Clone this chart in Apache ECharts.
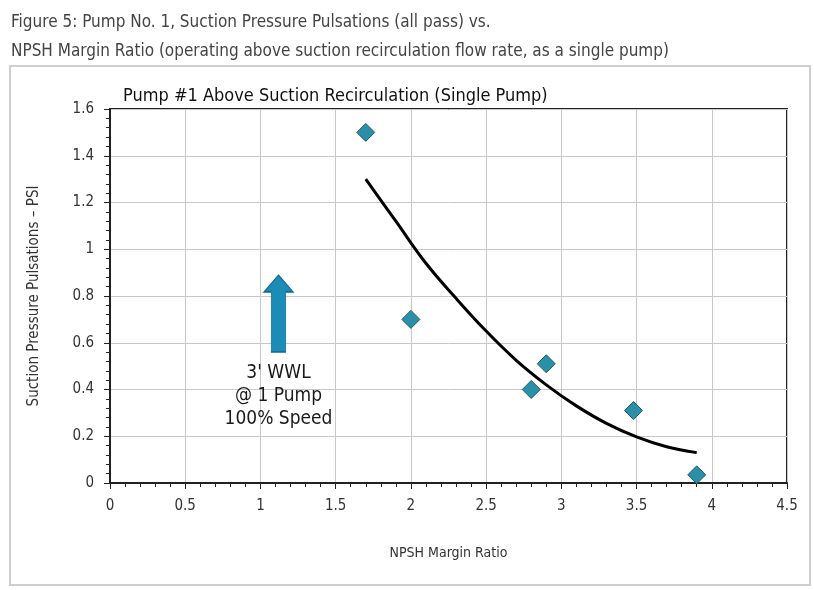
<!DOCTYPE html>
<html>
<head>
<meta charset="utf-8">
<script src="https://cdn.jsdelivr.net/npm/echarts@6/dist/echarts.min.js"></script>
<style>
  html, body { margin: 0; padding: 0; background: #fff; }
  #chart { width: 814px; height: 590px; }
</style>
</head>
<body>
<div id="chart"></div>
<script>
// measured points (NPSH margin ratio, pulsation psi)
const pointX = [1.7, 2.0, 2.8, 2.9, 3.48, 3.9]
const pointY = [1.5, 0.7, 0.4, 0.51, 0.31, 0.035]

// trend curve
const trendX = [1.7, 1.9, 2.1, 2.3, 2.5, 2.7, 2.9, 3.1, 3.3, 3.5, 3.7, 3.9]
const trendY = [1.30, 1.12, 0.94, 0.79, 0.65, 0.525, 0.42, 0.33, 0.255, 0.197, 0.155, 0.13]

// annotation arrow + note
const arrowPos = [1.12, 0.725]
const notePos = [1.12, 0.37]
const noteLines = ["3' WWL", '@ 1 Pump', '100% Speed']

const font = '"Liberation Sans Narrow", "DejaVu Sans Condensed", "Roboto Condensed", sans-serif'

var myChart = echarts.init(document.getElementById('chart'))

myChart.setOption({
  animation: false,
  title: [
    {
      text: 'Figure 5: Pump No. 1, Suction Pressure Pulsations (all pass) vs.\nNPSH Margin Ratio (operating above suction recirculation flow rate, as a single pump)',
      left: 6,
      top: 3,
      textStyle: { fontFamily: font, fontSize: 17, fontWeight: 'normal', color: '#444', lineHeight: 29 }
    },
    {
      text: 'Pump #1 Above Suction Recirculation (Single Pump)',
      left: 118,
      top: 82,
      textStyle: { fontFamily: font, fontSize: 18, fontWeight: 'normal', color: '#111' }
    }
  ],
  graphic: [
    {
      type: 'rect',
      shape: { x: 10, y: 66, width: 800, height: 519 },
      style: { fill: 'none', stroke: '#cfcfcf', lineWidth: 2 },
      silent: true
    }
  ],
  grid: {
    left: 110,
    right: 27,
    top: 109,
    bottom: 107,
    show: true,
    borderColor: '#222',
    borderWidth: 2
  },
  xAxis: {
    type: 'value',
    min: 0,
    max: 4.5,
    interval: 0.5,
    name: 'NPSH Margin Ratio',
    nameLocation: 'middle',
    nameGap: 63,
    nameTextStyle: { fontFamily: font, fontSize: 14, color: '#333' },
    axisLine: { lineStyle: { color: '#222', width: 2 } },
    axisTick: { length: 6, lineStyle: { color: '#222' } },
    minorTick: { show: true, splitNumber: 5, length: 4, lineStyle: { color: '#222' } },
    axisLabel: { fontFamily: font, fontSize: 15, color: '#333', margin: 16 },
    splitLine: { lineStyle: { color: '#c8c8c8' } }
  },
  yAxis: {
    type: 'value',
    min: 0,
    max: 1.6,
    interval: 0.2,
    name: 'Suction Pressure Pulsations \u2013 PSI',
    nameLocation: 'middle',
    nameGap: 68,
    nameTextStyle: { fontFamily: font, fontSize: 15, color: '#333' },
    axisLine: { lineStyle: { color: '#222', width: 2 } },
    axisTick: { length: 6, lineStyle: { color: '#222' } },
    minorTick: { show: true, splitNumber: 5, length: 4, lineStyle: { color: '#222' } },
    axisLabel: { fontFamily: font, fontSize: 15, color: '#333', margin: 16 },
    splitLine: { lineStyle: { color: '#c8c8c8' } }
  },
  series: [
    {
      type: 'line',
      data: trendX.map((x, i) => [x, trendY[i]]),
      smooth: 0.4,
      showSymbol: false,
      lineStyle: { color: '#000', width: 3 },
      z: 2
    },
    {
      type: 'scatter',
      data: pointX.map((x, i) => [x, pointY[i]]),
      symbol: 'diamond',
      symbolSize: 18,
      itemStyle: { color: '#2b8fa8', borderColor: '#1b5c6c', borderWidth: 1, opacity: 1 },
      z: 3
    },
    {
      type: 'scatter',
      data: [arrowPos],
      symbol: 'path://M15,0 L30,17 L22.5,17 L22.5,78 L7.5,78 L7.5,17 L0,17 Z',
      symbolKeepAspect: false,
      symbolSize: [29, 77],
      itemStyle: { color: '#1b8bb8', borderColor: '#13688c', borderWidth: 1, opacity: 1 },
      silent: true
    },
    {
      type: 'scatter',
      data: [notePos],
      symbolSize: 0,
      silent: true,
      itemStyle: { opacity: 1 },
      label: {
        show: true,
        position: 'inside',
        formatter: noteLines.join('\n'),
        fontFamily: font,
        fontSize: 19,
        lineHeight: 23,
        color: '#1a1a1a',
        align: 'center'
      }
    }
  ]
})
</script>
</body>
</html>
